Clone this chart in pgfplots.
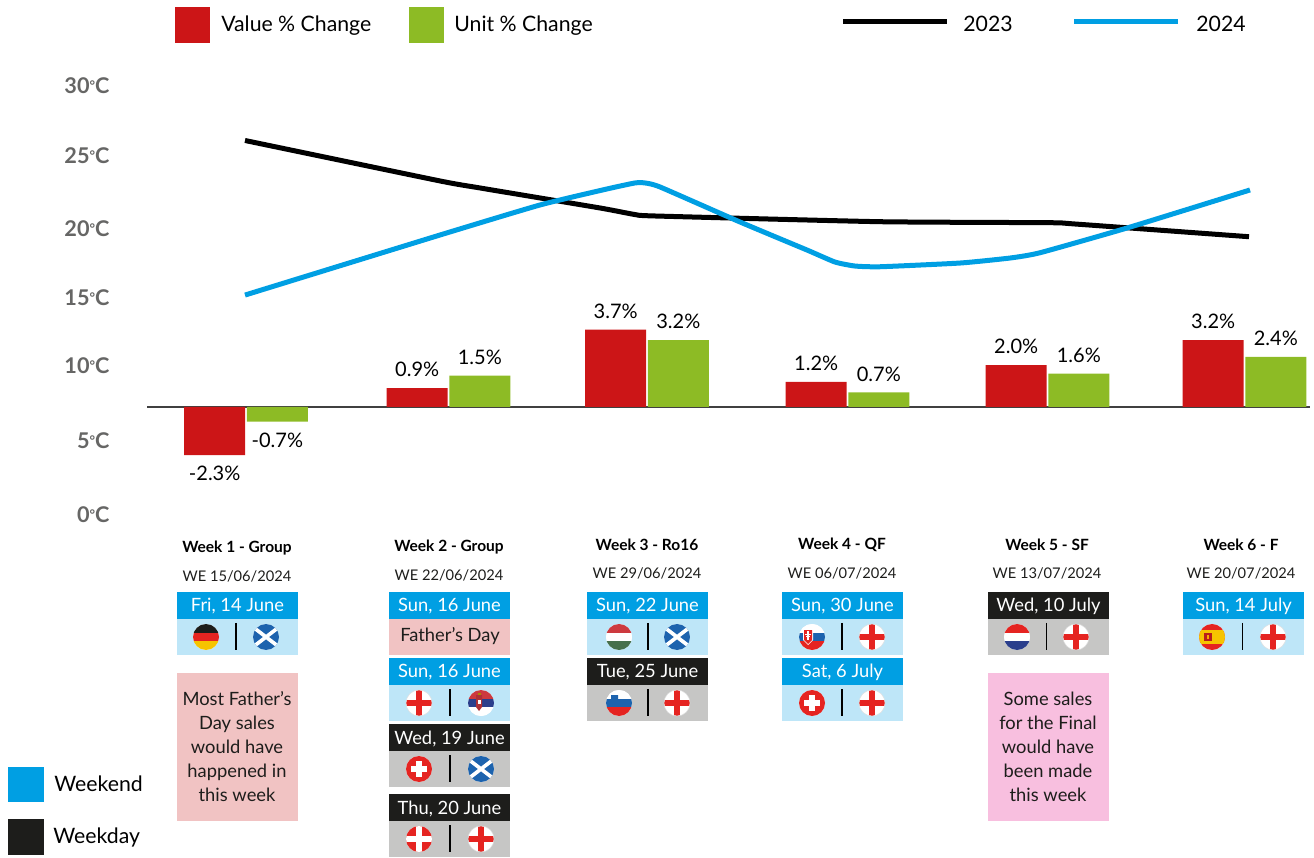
\documentclass[border=0pt]{standalone}
\usepackage{fontspec}
\setmainfont{Lato}
\usepackage{pgfplots}
\pgfplotsset{compat=1.18}
\usetikzlibrary{calc}
\definecolor{cRed}{HTML}{CC1517}
\definecolor{cGreen}{HTML}{8DBB25}
\definecolor{cBlue}{HTML}{009FE3}
\definecolor{cLtBlue}{HTML}{BEE6F8}
\definecolor{cDark}{HTML}{1D1D1B}
\definecolor{cGray}{HTML}{C6C6C5}
\definecolor{cPink}{HTML}{F1C3C3}
\definecolor{cPinkB}{HTML}{F8BFDF}
\definecolor{cTick}{HTML}{666665}
\definecolor{fRed}{HTML}{E52421}
\definecolor{fBlue}{HTML}{1D63AE}
\definecolor{fNavy}{HTML}{2B3F8C}
\definecolor{fGold}{HTML}{F6C400}
\definecolor{fGreen}{HTML}{47704C}
\definecolor{fHun}{HTML}{CD3A3F}

\newcommand{\lab}{\fontsize{12.75pt}{15pt}\selectfont}
\newcommand{\sm}{\fontsize{11pt}{14.4pt}\selectfont}
\newcommand{\smb}{\fontsize{9.3pt}{10pt}\selectfont\bfseries}
\newcommand{\smr}{\fontsize{8.8pt}{10pt}\selectfont}
\newcommand{\dg}{\raisebox{.32ex}{\fontsize{8pt}{8pt}\selectfont °}}

% flags, all drawn at a centre with radius 13
\newcommand{\flagstart}[2]{\begin{scope}[shift={(#1,#2)}]\clip (0,0) circle (13);\fill[white] (-14,-14) rectangle (14,14);}
\newcommand{\flagend}{\end{scope}}
\newcommand{\tri}[3]{\fill[#1] (-14,-14) rectangle (14,-4.3);\fill[#2] (-14,-4.3) rectangle (14,4.3);\fill[#3] (-14,4.3) rectangle (14,14);}
\newcommand{\Ger}[2]{\flagstart{#1}{#2}\tri{cDark}{fRed}{fGold}\flagend}
\newcommand{\Sco}[2]{\flagstart{#1}{#2}\fill[fBlue] (-14,-14) rectangle (14,14);\draw[white,line width=2.2pt] (-13,-10) -- (13,10) (-13,10) -- (13,-10);\flagend}
\newcommand{\Eng}[2]{\flagstart{#1}{#2}\fill[fRed] (-3,-14) rectangle (3,14);\fill[fRed] (-14,-3) rectangle (14,3);\flagend\draw[gray!25,line width=.3pt] (#1,#2) circle (13);}
\newcommand{\Sui}[2]{\flagstart{#1}{#2}\fill[fRed] (-14,-14) rectangle (14,14);\fill[white] (-2.7,-8) rectangle (2.7,8);\fill[white] (-8,-2.7) rectangle (8,2.7);\flagend}
\newcommand{\Den}[2]{\flagstart{#1}{#2}\fill[fRed] (-14,-14) rectangle (14,14);\fill[white] (-3,-14) rectangle (3,14);\fill[white] (-14,-3) rectangle (14,3);\flagend}
\newcommand{\Srb}[2]{\flagstart{#1}{#2}\tri{fHun}{fNavy}{white}\fill[fHun!85!black] (-5,-8) -- (1,-8) -- (1,4) -- (-2,8) -- (-5,4) -- cycle;\fill[white] (-3.5,-3) rectangle (-.5,1);\fill[fGold!70!black] (-3.5,-10) rectangle (-.5,-8);\flagend}
\newcommand{\Hun}[2]{\flagstart{#1}{#2}\tri{fHun}{white}{fGreen}\flagend}
\newcommand{\Svk}[2]{\flagstart{#1}{#2}\tri{white}{fBlue}{fRed}\fill[white] (-9,-8) -- (1,-8) -- (1,3) -- (-4,8) -- (-9,3) -- cycle;\fill[fRed] (-8,-7) -- (0,-7) -- (0,3) -- (-4,7) -- (-8,3) -- cycle;\fill[white] (-4.8,-6) rectangle (-3.2,3);\fill[white] (-7,-3.5) rectangle (-1,-2.3);\fill[white] (-6,-1) rectangle (-2,.2);\flagend}
\newcommand{\Svn}[2]{\flagstart{#1}{#2}\tri{white}{fBlue}{fRed}\fill[fBlue] (-8,-8) -- (-1,-8) -- (-1,-3) -- (-4.5,-1) -- (-8,-3) -- cycle;\flagend}
\newcommand{\Ned}[2]{\flagstart{#1}{#2}\tri{fRed}{white}{fNavy}\flagend}
\newcommand{\Esp}[2]{\flagstart{#1}{#2}\fill[fRed] (-14,-14) rectangle (14,14);\fill[fGold] (-14,-7) rectangle (14,7);\fill[fRed!80!black] (-8,-4) rectangle (0,4);\fill[fGold!60!orange] (-5,-2) rectangle (-3,2);\flagend}

% header with date, then strip with two flags: x, top y, header colour, strip colour, date, flag left, flag right, left cx, right cx
\newcommand{\match}[9]{%
  \fill[#3] (#1,#2) rectangle ++(121,27);
  \node[white,font=\sm] at ($(#1,#2)+(60.5,14.5)$) {#5};
  \fill[#4] ($(#1,#2)+(0,27)$) rectangle ++(121,36);
  #6{#8}{\the\numexpr#2+45\relax}
  #7{#9}{\the\numexpr#2+45\relax}
  \draw[black,line width=.7pt] ({(#8+#9)/2},\the\numexpr#2+31\relax) -- ++(0,27);
}
\newcommand{\week}[4]{\node[font=\smb,text=black] at (#1,#2) {#3};\node[font=\smr,text=cDark] at (#1,\the\numexpr#2+28\relax) {#4};}

\begin{document}
\begin{tikzpicture}
\path (0,0) rectangle (788.4pt,513.6pt);

% temperature lines, y axis in degrees C
\begin{axis}[
  at={(88.2pt,195.6pt)}, anchor=south west,
  scale only axis, width=697.8pt, height=282pt,
  xmin=147, xmax=1310, ymin=-1.049, ymax=31.82,
  xtick=\empty,
  ytick={0,5.17,10.42,15.17,20,25.1,30},
  yticklabels={0\dg C,5\dg C,10\dg C,15\dg C,20\dg C,25\dg C,30\dg C},
  yticklabel style={font=\fontsize{13pt}{14pt}\selectfont\bfseries, text=cTick, xshift=-19pt},
  axis line style={draw=none}, tick style={draw=none},
]
\addplot[black,line width=3pt,smooth,tension=0.3] coordinates {
  (245,26.19) (440,23.36) (480,22.87) (600,21.47) (635,21.01) (655,20.91)
  (880,20.51) (1050,20.44) (1075,20.35) (1249,19.46)
};
\addplot[cBlue,line width=3pt,smooth,tension=0.3] coordinates {
  (245,15.38) (440,19.58) (540,21.68) (607,22.80) (635,23.22) (645,23.22)
  (660,22.94) (740,20.49) (807,18.53) (835,17.69) (855,17.41) (880,17.36)
  (960,17.62) (1010,17.97) (1040,18.34) (1127,20.07) (1250,22.73)
};
\end{axis}

% percentage change bars
\begin{axis}[
  at={(88.2pt,195.6pt)}, anchor=south west,
  scale only axis, width=697.8pt, height=282pt,
  xmin=147, xmax=1310, ymin=-5.885, ymax=16.603,
  ybar=1pt, bar width=36.6pt,
  axis x line=middle, axis y line=none,
  axis line style={-,black!75,line width=.7pt},
  xtick=\empty, ytick=\empty,
  /pgf/number format/assume math mode=true,
  nodes near coords={\pgfmathprintnumber[fixed,zerofill,precision=1]{\pgfplotspointmeta}\%},
  every node near coord/.append style={font=\fontsize{12pt}{14pt}\selectfont,text=black,inner sep=6.5pt},
]
\addplot[fill=cRed,draw=none] coordinates {
  (246,-2.3) (448.5,0.9) (647,3.7) (847.5,1.2) (1047.5,2.0) (1244.5,3.2)
};
\addplot[fill=cGreen,draw=none] coordinates {
  (246,-0.7) (448.5,1.5) (647,3.2) (847.5,0.7) (1047.5,1.6) (1244.5,2.4)
};
\end{axis}

% everything below in pixel positions of the reference
\begin{scope}[x=.6pt,y=-.6pt,shift={(0pt,513.6pt)}]
% legends
\fill[cRed] (175,7) rectangle (210,43);
\node[font=\lab,anchor=west,inner sep=0] at (221,26) {Value \% Change};
\fill[cGreen] (409,7) rectangle (444,43);
\node[font=\lab,anchor=west,inner sep=0] at (454,26) {Unit \% Change};
\draw[black,line width=3pt] (843,22) -- (947,22);
\node[font=\lab,anchor=west,inner sep=0] at (963,24) {2023};
\draw[cBlue,line width=3pt] (1074,22) -- (1178,22);
\node[font=\lab,anchor=west,inner sep=0] at (1196,24) {2024};
\fill[cBlue] (8,767) rectangle (44,802);
\node[font=\lab,anchor=west,inner sep=0] at (54,784) {Weekend};
\fill[cDark] (8,819) rectangle (44,855);
\node[font=\lab,anchor=west,inner sep=0] at (53,837) {Weekday};

% week headings
\week{237}{548}{Week 1 - Group}{WE 15/06/2024}
\week{449}{547}{Week 2 - Group}{WE 22/06/2024}
\week{647}{545}{Week 3 - Ro16}{WE 29/06/2024}
\week{842}{545}{Week 4 - QF}{WE 06/07/2024}
\week{1047}{545}{Week 5 - SF}{WE 13/07/2024}
\week{1241}{545}{Week 6 - F}{WE 20/07/2024}

% week 1
\match{177}{592}{cBlue}{cLtBlue}{Fri, 14 June}{\Ger}{\Sco}{206}{266}
\fill[cPink] (177,673) rectangle (298,821);
\node[font=\sm,align=center,text=cDark] at (237,747) {Most Father's\\Day sales\\would have\\happened in\\this week};

% week 2
\fill[cBlue] (389,592) rectangle (510,619);
\node[white,font=\sm] at (449.5,606.5) {Sun, 16 June};
\fill[cPink] (389,619) rectangle (510,655);
\node[font=\sm,text=cDark] at (450,636) {Father's Day};
\match{389}{658}{cBlue}{cLtBlue}{Sun, 16 June}{\Eng}{\Srb}{419}{481}
\match{389}{724}{cDark}{cGray}{Wed, 19 June}{\Sui}{\Sco}{419}{481}
\match{389}{794}{cDark}{cGray}{Thu, 20 June}{\Den}{\Eng}{419}{481}

% week 3
\match{587}{592}{cBlue}{cLtBlue}{Sun, 22 June}{\Hun}{\Sco}{619}{677}
\match{587}{658}{cDark}{cGray}{Tue, 25 June}{\Svn}{\Eng}{619}{677}

% week 4
\match{782}{592}{cBlue}{cLtBlue}{Sun, 30 June}{\Svk}{\Eng}{812}{872}
\match{782}{658}{cBlue}{cLtBlue}{Sat, 6 July}{\Sui}{\Eng}{812}{872}

% week 5
\match{988}{592}{cDark}{cGray}{Wed, 10 July}{\Ned}{\Eng}{1017}{1076}
\fill[cPinkB] (988,673) rectangle (1109,821);
\node[font=\sm,align=center,text=cDark] at (1048,747) {Some sales\\for the Final\\would have\\been made\\this week};

% week 6
\match{1183}{592}{cBlue}{cLtBlue}{Sun, 14 July}{\Esp}{\Eng}{1212}{1273}
\end{scope}
\end{tikzpicture}
\end{document}
